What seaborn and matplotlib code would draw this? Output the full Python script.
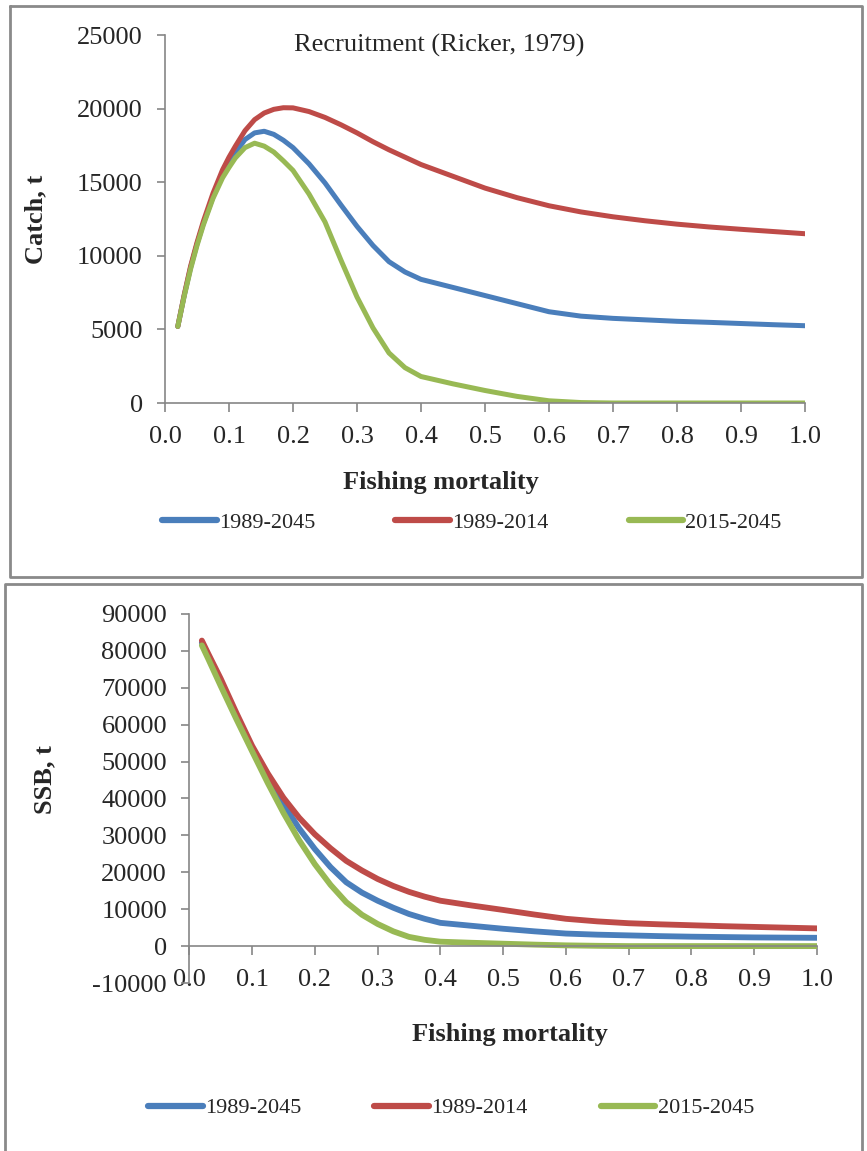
import pandas as pd
import seaborn as sns
import matplotlib.pyplot as plt
from matplotlib.lines import Line2D

# fishing mortality grid and values
f_catch = [0.02, 0.03, 0.04, 0.05, 0.06, 0.075, 0.09, 0.1, 0.11, 0.125, 0.14, 0.155, 0.17, 0.185,
           0.2, 0.225, 0.25, 0.275, 0.3, 0.325, 0.35, 0.375, 0.4, 0.45, 0.5, 0.55, 0.6, 0.65,
           0.7, 0.75, 0.8, 0.85, 0.9, 0.95, 1.0]
catch_all = [5200, 7300, 9200, 10800, 12200, 14000, 15500, 16300, 17000, 17900, 18350, 18460, 18250, 17850,
             17350, 16250, 14950, 13450, 12000, 10700, 9600, 8900, 8400, 7850, 7300, 6750, 6200, 5900,
             5750, 5650, 5550, 5480, 5400, 5320, 5250]
catch_early = [5200, 7350, 9300, 10900, 12350, 14250, 15850, 16700, 17450, 18500, 19250, 19700, 19950, 20060,
               20050, 19800, 19400, 18900, 18350, 17750, 17200, 16700, 16200, 15400, 14600, 13950, 13400, 12980,
               12650, 12380, 12150, 11960, 11800, 11650, 11500]
catch_late = [5200, 7250, 9100, 10700, 12100, 13900, 15300, 16000, 16650, 17350, 17650, 17450, 17050, 16450,
              15800, 14200, 12300, 9700, 7200, 5100, 3400, 2400, 1800, 1300, 850, 450, 150, 30,
              0, 0, 0, 0, 0, 0, 0]

f_ssb = [0.02, 0.03, 0.04, 0.05, 0.075, 0.1, 0.125, 0.15, 0.175, 0.2, 0.225, 0.25, 0.275, 0.3, 0.325,
         0.35, 0.375, 0.4, 0.45, 0.5, 0.55, 0.6, 0.65, 0.7, 0.75, 0.8, 0.85, 0.9, 0.95, 1.0]
ssb_all = [82200, 78700, 75100, 71500, 62400, 53600, 45600, 38400, 31900, 26300, 21400, 17300, 14500, 12300, 10400,
           8700, 7400, 6300, 5500, 4700, 4000, 3400, 3100, 2900, 2700, 2550, 2450, 2350, 2300, 2250]
ssb_early = [82800, 79300, 75900, 72500, 63200, 54300, 46800, 40200, 34800, 30300, 26500, 23100, 20500, 18200, 16300,
             14700, 13400, 12300, 11000, 9800, 8550, 7400, 6700, 6200, 5900, 5650, 5400, 5200, 5000, 4800]
ssb_late = [81500, 77900, 74200, 70500, 61500, 52800, 44200, 36100, 28700, 22200, 16600, 11900, 8500, 6000, 4000,
            2500, 1700, 1200, 900, 650, 400, 200, 80, 0, 0, 0, 0, 0, 0, 0]

series = ['1989-2045', '1989-2014', '2015-2045']
colors = {'1989-2045': '#4A7EBB', '1989-2014': '#BE4B48', '2015-2045': '#98B954'}

catch = pd.concat([pd.DataFrame({'F': f_catch, 'value': v, 'period': s})
                   for s, v in zip(series, [catch_all, catch_early, catch_late])])
ssb = pd.concat([pd.DataFrame({'F': f_ssb, 'value': v, 'period': s})
                 for s, v in zip(series, [ssb_all, ssb_early, ssb_late])])

sns.set_style('white')
plt.rcParams['font.family'] = ['Liberation Serif', 'DejaVu Serif']
plt.rcParams['axes.unicode_minus'] = False

W, H = 867, 1151
fig = plt.figure(figsize=(W / 100, H / 100), dpi=100)
grey = '#868686'

# panel frames
frame = dict(color='#8a8a8a', lw=2, transform=fig.transFigure)
for xs, ys in [([10, 10, 862, 862, 10], [6, 577, 577, 6, 6]),
               ([5, 5, 862, 862], [1151, 584, 584, 1151])]:
    fig.add_artist(Line2D([x / W for x in xs], [1 - y / H for y in ys], **frame))


def style(ax, ylabel, bottom_zero=False):
    sns.despine(ax=ax)
    for sp in ['left', 'bottom']:
        ax.spines[sp].set_color(grey)
        ax.spines[sp].set_linewidth(1.2)
    if bottom_zero:
        ax.spines['bottom'].set_position(('data', 0))
    ax.tick_params(axis='x', direction='out', length=6.5, width=1.2, color=grey,
                   labelsize=19, pad=10, bottom=True)
    ax.tick_params(axis='y', direction='out', length=6, width=1.2, color=grey,
                   labelsize=19, pad=10, left=True)
    ax.set_xlim(0, 1.0)
    ax.set_xticks([i / 10 for i in range(11)])
    ax.set_xticklabels([f'{i / 10:.1f}' for i in range(11)])
    ax.set_ylabel(ylabel, fontsize=19, fontweight='bold', va='center')
    ax.set_xlabel('Fishing mortality', fontsize=19, fontweight='bold', va='center')
    ax.grid(False)


# top panel: catch
ax1 = fig.add_axes([165 / W, 1 - 403 / H, 640 / W, 368 / H])
sns.lineplot(data=catch, x='F', y='value', hue='period', palette=colors, lw=3.6,
             solid_capstyle='round', solid_joinstyle='round', ax=ax1)
ax1.set_ylim(0, 25000)
ax1.set_yticks(range(0, 25001, 5000))
style(ax1, 'Catch, t')
ax1.xaxis.set_label_coords((441 - 165) / 640, (403 - 483) / 368)
ax1.yaxis.set_label_coords((36 - 165) / 640, 0.5)
fig.text(439 / W, 1 - 45 / H, 'Recruitment (Ricker, 1979)', ha='center', va='center', fontsize=19)
sns.move_legend(ax1, 'center', bbox_to_anchor=(472 / W, 1 - 523 / H),
                bbox_transform=fig.transFigure, ncol=3, frameon=False, title=None,
                fontsize=16, handlelength=2.45, handletextpad=0.1, columnspacing=3.6)

# bottom panel: SSB
ax2 = fig.add_axes([189.3 / W, 1 - 983 / H, 627.7 / W, 369 / H])
sns.lineplot(data=ssb, x='F', y='value', hue='period', palette=colors, lw=4.2,
             solid_capstyle='round', solid_joinstyle='round', ax=ax2)
ax2.set_ylim(-10000, 90000)
ax2.set_yticks(range(-10000, 90001, 10000))
style(ax2, 'SSB, t', bottom_zero=True)
ax2.xaxis.set_label_coords((510 - 189.3) / 627.7, (983 - 1035) / 369)
ax2.yaxis.set_label_coords((45 - 189.3) / 627.7, (983 - 780) / 369)
sns.move_legend(ax2, 'center', bbox_to_anchor=(451 / W, 1 - 1108 / H),
                bbox_transform=fig.transFigure, ncol=3, frameon=False, title=None,
                fontsize=16, handlelength=2.45, handletextpad=0.1, columnspacing=3.3)

for leg in [ax1.get_legend(), ax2.get_legend()]:
    for line in leg.get_lines():
        line.set_linewidth(4.5)

fig.savefig('out.png', dpi=100)
